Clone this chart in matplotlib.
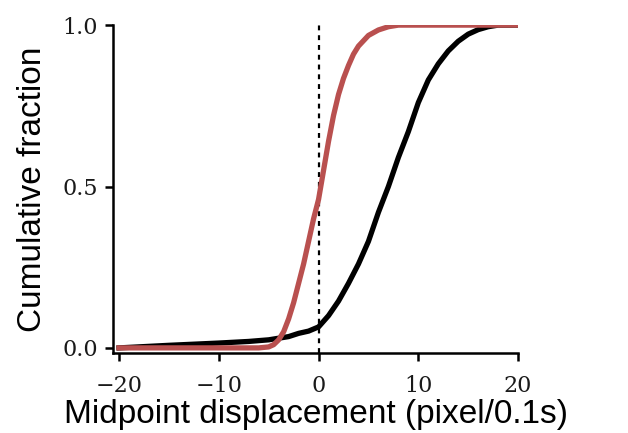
import numpy as np
import matplotlib
matplotlib.use('Agg')
import matplotlib.pyplot as plt

# values
black_x = [-20, -15, -10, -7, -5, -3, -2, -1, 0, 1, 2, 3, 4, 5, 6, 7, 8, 9, 10,
           11, 12, 13, 14, 15, 16, 17, 18, 20]
black_y = [0.0, 0.008, 0.015, 0.02, 0.025, 0.035, 0.045, 0.052, 0.065, 0.1, 0.145,
           0.2, 0.26, 0.33, 0.42, 0.5, 0.59, 0.67, 0.76, 0.83, 0.88, 0.92, 0.95,
           0.972, 0.986, 0.995, 1.0, 1.0]

red_x = [-20, -10, -6, -5, -4.5, -4, -3.5, -3, -2.5, -2, -1.5, -1, -0.5, 0, 0.5, 1,
         1.5, 2, 2.5, 3, 3.5, 4, 5, 6, 7, 8, 20]
red_y = [0.0, 0.0, 0.0, 0.003, 0.01, 0.025, 0.05, 0.09, 0.14, 0.2, 0.26, 0.33, 0.40,
         0.46, 0.55, 0.64, 0.72, 0.785, 0.835, 0.875, 0.91, 0.935, 0.968, 0.985, 0.995,
         1.0, 1.0]

xticks = [-20, -10, 0, 10, 20]
yticks = [0.0, 0.5, 1.0]
ytick_labels = ['0.0', '0.5', '1.0']

fig = plt.figure(figsize=(6.28, 4.33), dpi=100)
ax = fig.add_axes([0.18, 0.185, 0.645, 0.757])

ax.plot(black_x, black_y, color='black', lw=3.8, solid_joinstyle='round', zorder=3)
ax.plot(red_x, red_y, color='#b9504f', lw=3.8, solid_joinstyle='round', zorder=4)
ax.axvline(0, color='black', lw=1.6, linestyle=(0, (2.2, 2.2)), zorder=2)

ax.set_xlim(-20.6, 20)
ax.set_ylim(-0.0155, 1.0)

for s in ['top', 'right']:
    ax.spines[s].set_visible(False)
for s in ['left', 'bottom']:
    ax.spines[s].set_linewidth(1.8)

tick_font = dict(family='DejaVu Serif', fontsize=16, color='#1a1a1a')
ax.set_xticks(xticks)
ax.set_xticklabels([('\u2212%d' % -t) if t < 0 else str(t) for t in xticks],
                   **tick_font)
ax.set_yticks(yticks)
ax.set_yticklabels(ytick_labels, **tick_font)
ax.tick_params(direction='out', length=6, width=1.8, pad=5)
ax.tick_params(axis='x', pad=10)

ax.set_xlabel('Midpoint displacement (pixel/0.1s)', family='Liberation Sans',
              fontsize=24, labelpad=1)
ax.set_ylabel('Cumulative fraction', family='Liberation Sans', fontsize=24,
              labelpad=10)

fig.savefig('out.png', dpi=100)
